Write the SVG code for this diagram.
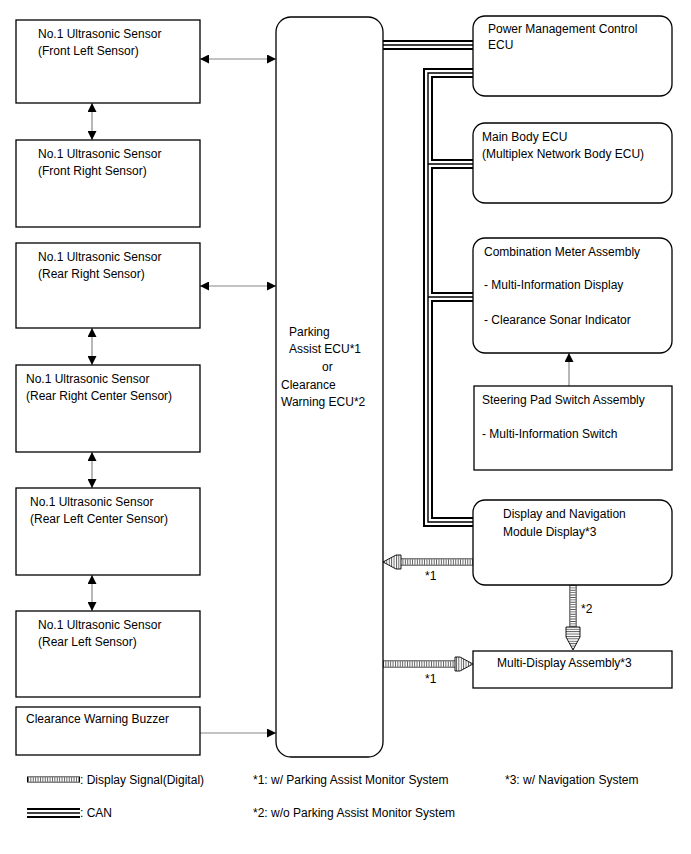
<svg xmlns="http://www.w3.org/2000/svg" width="691" height="854" viewBox="0 0 691 854">
<defs>
<style>
text{font-family:"Liberation Sans",Arial,sans-serif;font-size:12px;fill:#000}
.box{fill:#fff;stroke:#000;stroke-width:1.3}
.ln{stroke:#888;stroke-width:1.2;fill:none}
.cano{stroke:#000;stroke-width:10;fill:none}
.canw{stroke:#fff;stroke-width:6;fill:none}
.canc{stroke:#000;stroke-width:1.4;fill:none}
.ho{stroke:#000;stroke-width:7;fill:none}
.hw{stroke:#fff;stroke-width:5.4;fill:none}
.hs{stroke:#555;stroke-width:5.4;stroke-dasharray:0.9 1.5;fill:none}
.hh{stroke:#000;stroke-width:0.9}
</style>
<marker id="ah" viewBox="0 0 10 10" refX="10" refY="5" markerWidth="9" markerHeight="9" markerUnits="userSpaceOnUse" orient="auto-start-reverse">
<path d="M0,0 L10,5 L0,10 Z" fill="#000"/>
</marker>
<pattern id="vs" width="2.4" height="4" patternUnits="userSpaceOnUse"><rect width="4" height="4" fill="#fff"/><rect width="0.9" height="4" fill="#555"/></pattern>
<pattern id="hsp" width="4" height="2.4" patternUnits="userSpaceOnUse"><rect width="4" height="4" fill="#fff"/><rect width="4" height="0.9" fill="#555"/></pattern>
</defs>
<rect width="691" height="854" fill="#fff"/>

<g id="connectors">
<path class="cano" d="M383,45 H473 M473,73 H428 V522 H473 M428,164 H473 M428,297 H473"/>
<path class="canw" d="M383,45 H473 M473,73 H428 V522 H473 M428,164 H473 M428,297 H473"/>
<path class="canc" d="M383,45 H473 M473,73 H428 V522 H473 M428,164 H473 M428,297 H473"/>
<line class="ln" x1="200" y1="59" x2="276" y2="59" marker-start="url(#ah)" marker-end="url(#ah)"/>
<line class="ln" x1="200" y1="286" x2="276" y2="286" marker-start="url(#ah)" marker-end="url(#ah)"/>
<line class="ln" x1="200" y1="733" x2="276" y2="733" marker-end="url(#ah)"/>
<line class="ln" x1="92" y1="103" x2="92" y2="140" marker-start="url(#ah)" marker-end="url(#ah)"/>
<line class="ln" x1="92" y1="328" x2="92" y2="365" marker-start="url(#ah)" marker-end="url(#ah)"/>
<line class="ln" x1="92" y1="452" x2="92" y2="488" marker-start="url(#ah)" marker-end="url(#ah)"/>
<line class="ln" x1="92" y1="575" x2="92" y2="611" marker-start="url(#ah)" marker-end="url(#ah)"/>
<line class="ln" x1="569" y1="386" x2="569" y2="353" marker-end="url(#ah)"/>
<path class="ho" d="M473,562 H400 M383,664 H456 M573,585 V627"/>
<path class="hw" d="M473,562 H400 M383,664 H456 M573,585 V627"/>
<path class="hs" d="M473,562 H400 M383,664 H456 M573,585 V627"/>
<polygon class="hh" points="383,562 396,555 401,555 401,569 396,569" fill="url(#vs)"/>
<polygon class="hh" points="473,664 460,657 455,657 455,671 460,671" fill="url(#vs)"/>
<polygon class="hh" points="573,650 566,637 566,627 580,627 580,637" fill="url(#hsp)"/>
<text x="425" y="580">*1</text>
<text x="425" y="683">*1</text>
<text x="581" y="613">*2</text>
</g>

<g id="n-fl"><rect class="box" x="16" y="20" width="184" height="83"/><text x="38" y="38">No.1 Ultrasonic Sensor</text><text x="38" y="55">(Front Left Sensor)</text></g>
<g id="n-fr"><rect class="box" x="16" y="140" width="184" height="87"/><text x="38" y="158">No.1 Ultrasonic Sensor</text><text x="38" y="175">(Front Right Sensor)</text></g>
<g id="n-rr"><rect class="box" x="16" y="243" width="184" height="85"/><text x="38" y="261">No.1 Ultrasonic Sensor</text><text x="38" y="278">(Rear Right Sensor)</text></g>
<g id="n-rrc"><rect class="box" x="16" y="365" width="184" height="87"/><text x="26" y="383">No.1 Ultrasonic Sensor</text><text x="26" y="400">(Rear Right Center Sensor)</text></g>
<g id="n-rlc"><rect class="box" x="16" y="488" width="184" height="87"/><text x="30" y="506">No.1 Ultrasonic Sensor</text><text x="30" y="523">(Rear Left Center Sensor)</text></g>
<g id="n-rl"><rect class="box" x="16" y="611" width="184" height="86"/><text x="38" y="629">No.1 Ultrasonic Sensor</text><text x="38" y="646">(Rear Left Sensor)</text></g>
<g id="n-buzzer"><rect class="box" x="16" y="707" width="184" height="48"/><text x="26" y="723">Clearance Warning Buzzer</text></g>

<g id="n-ecu"><rect class="box" x="276" y="17" width="107" height="740" rx="15"/>
<text x="289" y="336">Parking</text><text x="289" y="353">Assist ECU*1</text><text x="322" y="371">or</text><text x="281" y="389">Clearance</text><text x="281" y="406">Warning ECU*2</text></g>

<g id="n-pmc"><rect class="box" x="473" y="16" width="199" height="80" rx="12"/><text x="488" y="33">Power Management Control</text><text x="488" y="49">ECU</text></g>
<g id="n-mb"><rect class="box" x="473" y="123" width="199" height="80" rx="12"/><text x="482" y="141">Main Body ECU</text><text x="482" y="158">(Multiplex Network Body ECU)</text></g>
<g id="n-cm"><rect class="box" x="473" y="238" width="199" height="115" rx="12"/><text x="484" y="256">Combination Meter Assembly</text><text x="484" y="289">- Multi-Information Display</text><text x="484" y="324">- Clearance Sonar Indicator</text></g>
<g id="n-sp"><rect class="box" x="474" y="386" width="198" height="84"/><text x="482" y="404">Steering Pad Switch Assembly</text><text x="482" y="438">- Multi-Information Switch</text></g>
<g id="n-dn"><rect class="box" x="473" y="500" width="199" height="85" rx="12"/><text x="503" y="518">Display and Navigation</text><text x="503" y="536">Module Display*3</text></g>
<g id="n-md"><rect class="box" x="473" y="651" width="199" height="37"/><text x="497" y="667">Multi-Display Assembly*3</text></g>

<g id="legend">
<line x1="27" y1="779.5" x2="80" y2="779.5" stroke="#000" stroke-width="6"/>
<line x1="28" y1="779.5" x2="79" y2="779.5" stroke="#fff" stroke-width="4.4"/>
<line x1="28" y1="779.5" x2="79" y2="779.5" stroke="#555" stroke-width="4.4" stroke-dasharray="0.9 1.5"/>
<text x="80" y="784">: Display Signal(Digital)</text>
<path class="cano" d="M27,813 H80"/><path class="canw" d="M27,813 H80"/><path class="canc" d="M27,813 H80"/>
<text x="80" y="817">: CAN</text>
<text x="253" y="784">*1: w/ Parking Assist Monitor System</text>
<text x="253" y="817">*2: w/o Parking Assist Monitor System</text>
<text x="505" y="784">*3: w/ Navigation System</text>
</g>
</svg>
